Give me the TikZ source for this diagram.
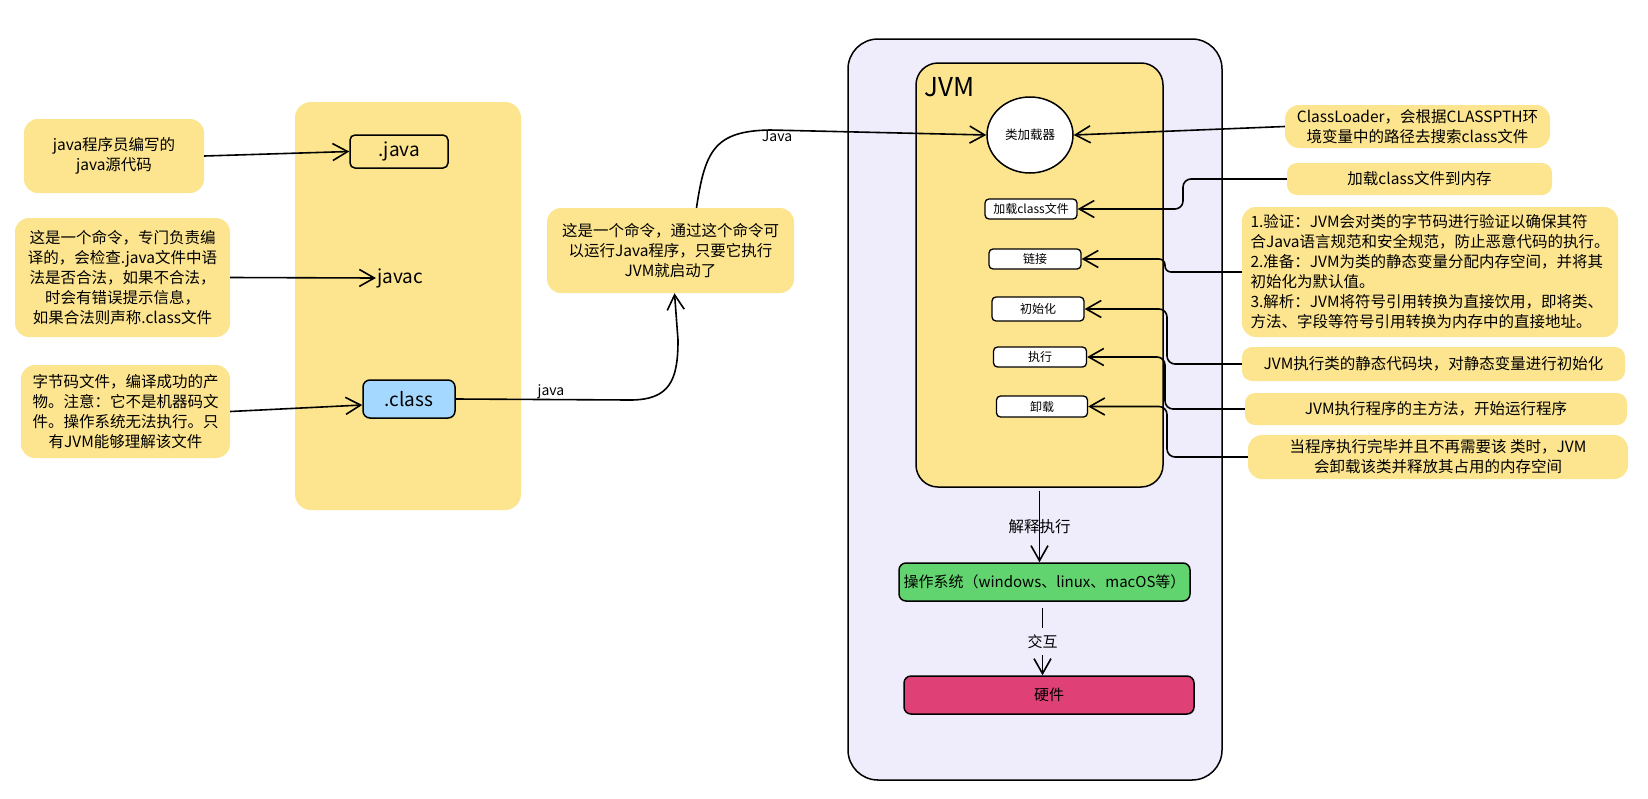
\documentclass[tikz,border=0pt]{standalone}
\usepackage{fontspec}
\setmainfont{Noto Sans CJK SC}
\usetikzlibrary{arrows.meta,shapes.geometric}
\definecolor{noteY}{HTML}{FDE58F}
\definecolor{lav}{HTML}{EFEDFC}
\definecolor{clsB}{HTML}{A5D8FF}
\definecolor{osG}{HTML}{62D46F}
\definecolor{hwR}{HTML}{DF4177}
\begin{document}
\begin{tikzpicture}[x=1pt,y=-1pt,
  note/.style={fill=noteY, rounded corners=14pt, inner sep=0pt, align=center, font=\fontsize{15.5pt}{20pt}\selectfont},
  wbox/.style={draw, fill=white, rounded corners=4pt, line width=1.3pt, inner sep=0pt, font=\fontsize{12pt}{14pt}\selectfont},
  arr/.style={line width=1.6pt, -{Straight Barb[length=15pt,width=17pt,line width=1.6pt]}},
  lbl/.style={inner sep=1pt, font=\fontsize{14pt}{16pt}\selectfont},
  big/.style={font=\fontsize{19pt}{22pt}\selectfont}]

\useasboundingbox (0,0) rectangle (1648,798);
\fill[white] (0,0) rectangle (1648,798);

% left panel
\node[fill=noteY, rounded corners=16pt, minimum width=226pt, minimum height=408pt, inner sep=0pt] (panel) at (408,306) {};

% left notes
\node[note, minimum width=180pt, minimum height=74pt] (n1) at (114,156) {java程序员编写的\\java源代码};
\node[note, minimum width=215pt, minimum height=119pt] (n2) at (122.5,277.5) {这是一个命令，专门负责编\\译的，会检查.java文件中语\\法是否合法，如果不合法，\\时会有错误提示信息，\\如果合法则声称.class文件};
\node[note, minimum width=209pt, minimum height=93pt] (n3) at (125.5,411.5) {字节码文件，编译成功的产\\物。注意：它不是机器码文\\件。操作系统无法执行。只\\有JVM能够理解该文件};

% panel content
\node[draw, rounded corners=5pt, line width=1.5pt, minimum width=98pt, minimum height=33pt, inner sep=0pt, big] (jv) at (399,151.5) {.java};
\node[big, inner sep=1pt] (javac) at (400,278) {javac};
\node[draw, fill=clsB, rounded corners=7pt, line width=1.5pt, minimum width=92pt, minimum height=38pt, inner sep=0pt, big] (cls) at (409,399) {.class};

% middle note
\node[note, minimum width=247pt, minimum height=85pt] (n4) at (670.5,250.5) {这是一个命令，通过这个命令可\\以运行Java程序，只要它执行\\JVM就启动了};

% JVM area
\node[draw, fill=lav, rounded corners=30pt, line width=1.5pt, minimum width=374pt, minimum height=741pt, inner sep=0pt] (vmbg) at (1035,409.5) {};
\node[draw, fill=noteY, rounded corners=22pt, line width=1.5pt, minimum width=247pt, minimum height=424pt, inner sep=0pt] (jvm) at (1039.5,275) {};
\node[font=\fontsize{26pt}{28pt}\selectfont, anchor=west, inner sep=0pt] (jvmlbl) at (924,87) {JVM};

\node[draw, fill=white, ellipse, line width=1.5pt, minimum width=86pt, minimum height=76pt, inner sep=0pt, font=\fontsize{12.5pt}{14pt}\selectfont] (cl) at (1030,135) {类加载器};
\node[wbox, minimum width=92pt, minimum height=20pt] (b1) at (1031,209) {加载class文件};
\node[wbox, minimum width=92pt, minimum height=20pt] (b2) at (1035,259) {链接};
\node[wbox, minimum width=92pt, minimum height=24pt] (b3) at (1038,309) {初始化};
\node[wbox, minimum width=93pt, minimum height=20pt] (b4) at (1040,357) {执行};
\node[wbox, minimum width=91pt, minimum height=21pt] (b5) at (1042,406.5) {卸载};

\node[draw, fill=osG, rounded corners=7pt, line width=1.5pt, minimum width=291pt, minimum height=38pt, inner sep=0pt, font=\fontsize{15pt}{18pt}\selectfont] (os) at (1044.5,582) {操作系统（windows、linux、macOS等）};
\node[draw, fill=hwR, rounded corners=7pt, line width=1.5pt, minimum width=290pt, minimum height=38pt, inner sep=0pt, font=\fontsize{15pt}{18pt}\selectfont] (hw) at (1049,695) {硬件};

% right notes
\node[note, minimum width=265pt, minimum height=43pt] (ncl) at (1417.5,126.5) {ClassLoader，会根据CLASSPTH环\\境变量中的路径去搜索class文件};
\node[note, minimum width=265pt, minimum height=32pt, rounded corners=10pt] (nload) at (1419.5,179) {加载class文件到内存};
\node[note, minimum width=376pt, minimum height=130pt, align=left] (nlink) at (1430,272) {1.验证：JVM会对类的字节码进行验证以确保其符\\合Java语言规范和安全规范，防止恶意代码的执行。\\2.准备：JVM为类的静态变量分配内存空间，并将其\\初始化为默认值。\\3.解析：JVM将符号引用转换为直接饮用，即将类、\\方法、字段等符号引用转换为内存中的直接地址。};
\node[note, minimum width=383pt, minimum height=34pt, rounded corners=10pt] (ninit) at (1433.5,364) {JVM执行类的静态代码块，对静态变量进行初始化};
\node[note, minimum width=382pt, minimum height=32pt, rounded corners=10pt] (nexec) at (1436,409) {JVM执行程序的主方法，开始运行程序};
\node[note, minimum width=380pt, minimum height=44pt] (nunl) at (1438,457) {当程序执行完毕并且不再需要该 类时，JVM\\会卸载该类并释放其占用的内存空间};

% left connectors
\draw[arr] (n1.east) -- (jv.west);
\draw[arr] (n2.east) -- (javac.west);
\draw[arr] (n3.east) -- ([yshift=-6pt]cls.west);

% class -> n4
\draw[arr] (cls.east) -- (630,400) .. controls (670,400) and (678,380) .. (678,340) -- ([xshift=4pt]n4.south);
\node[lbl] (lj1) at (551,392) {java};

% n4 -> class loader
\draw[arr] ([xshift=26pt]n4.north) .. controls (705,150) and (715,131) .. (770,130) -- (cl.west);
\node[lbl] (lj2) at (777,136) {Java};

% right connectors
\draw[arr] (ncl.west) -- (cl.east);
\draw[arr, rounded corners=8pt] (nload.west) -- (1183,179) |- (b1.east);
\draw[arr, rounded corners=6pt] (nlink.west) -- (1165,272) |- (b2.east);
\draw[arr, rounded corners=8pt] (ninit.west) -- (1167,364) |- (b3.east);
\draw[arr, rounded corners=8pt] (nexec.west) -- (1165,409) |- (b4.east);
\draw[arr, rounded corners=8pt] (nunl.west) -- (1167,457) |- (b5.east);

% bottom connectors
\draw[arr] ([yshift=-3pt]jvm.south) -- node[midway, inner sep=1pt, font=\fontsize{15.5pt}{18pt}\selectfont] (lexec) {解释执行} (jvm.south |- os.north);
\draw[arr] ([xshift=-2pt,yshift=-6pt]os.south) -- node[midway, fill=lav, inner xsep=2pt, inner ysep=7pt, font=\fontsize{15pt}{18pt}\selectfont] (lint) {交互} ([xshift=-2pt]os.south |- hw.north);
\end{tikzpicture}
\end{document}
